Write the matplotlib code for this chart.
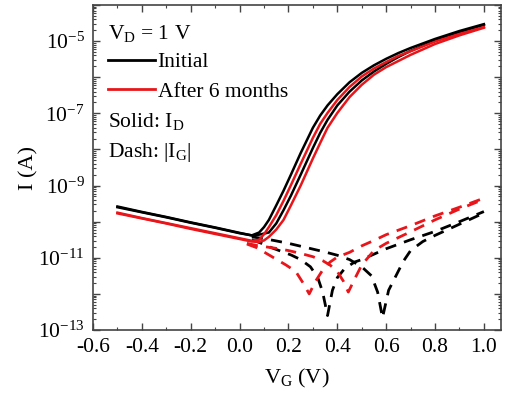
import numpy as np
import matplotlib
matplotlib.use('Agg')
import matplotlib.pyplot as plt
from matplotlib.lines import Line2D
from matplotlib.ticker import LogLocator, FuncFormatter, MultipleLocator, NullFormatter

plt.rcParams['font.family'] = ['Liberation Serif', 'DejaVu Serif']
plt.rcParams['mathtext.fontset'] = 'custom'
plt.rcParams['mathtext.rm'] = 'Liberation Serif'
plt.rcParams['mathtext.it'] = 'Liberation Serif:italic'
plt.rcParams['axes.unicode_minus'] = False

# gate voltage for the transfer (I_D) curves
vg = [-0.5, -0.4, -0.3, -0.2, -0.1, 0.0, 0.05, 0.08, 0.10, 0.12, 0.15, 0.18,
      0.21, 0.25, 0.30, 0.33, 0.36, 0.40, 0.45, 0.50, 0.55, 0.60, 0.65, 0.70,
      0.80, 0.90, 1.00]

# log10(I_D), two sweeps per state
logid_init_1 = [-9.58, -9.73, -9.87, -10.02, -10.16, -10.31, -10.38, -10.30, -10.15, -9.95,
                -9.55, -9.14, -8.70, -8.10, -7.40, -7.06, -6.78, -6.47, -6.14, -5.88,
                -5.67, -5.49, -5.33, -5.19, -4.94, -4.72, -4.53]
logid_init_2 = [-9.60, -9.74, -9.88, -10.03, -10.17, -10.32, -10.38, -10.36, -10.33, -10.30,
                -10.05, -9.68, -9.28, -8.70, -7.96, -7.54, -7.18, -6.78, -6.40, -6.09,
                -5.84, -5.63, -5.44, -5.27, -4.99, -4.75, -4.55]
logid_6m_1 = [-9.75, -9.90, -10.04, -10.18, -10.32, -10.46, -10.53, -10.50, -10.35, -10.15,
              -9.82, -9.42, -8.99, -8.40, -7.68, -7.29, -6.99, -6.63, -6.27, -5.98,
              -5.76, -5.58, -5.41, -5.28, -5.01, -4.80, -4.61]
logid_6m_2 = [-9.77, -9.91, -10.05, -10.20, -10.34, -10.48, -10.55, -10.56, -10.52, -10.42,
              -10.22, -9.95, -9.55, -9.00, -8.25, -7.82, -7.40, -6.99, -6.55, -6.21,
              -5.93, -5.72, -5.55, -5.38, -5.08, -4.84, -4.63]

# |I_G| curves (dashed), each with its own sign-change dip
vg_ig_init_1 = [0.05, 0.09, 0.14, 0.20, 0.25, 0.30, 0.35, 0.40, 0.45, 0.50, 0.54, 0.565,
                0.585, 0.61, 0.64, 0.67, 0.70, 0.75, 0.80, 0.90, 1.00]
logig_init_1 = [-10.42, -10.46, -10.52, -10.60, -10.68, -10.76, -10.84, -10.93, -11.05, -11.25,
                -11.50, -11.95, -12.66, -11.90, -11.50, -11.10, -10.80, -10.55, -10.38, -10.07,
                -9.76]
vg_ig_init_2 = [0.05, 0.09, 0.13, 0.17, 0.21, 0.25, 0.29, 0.32, 0.34, 0.36, 0.38, 0.40,
                0.43, 0.47, 0.50, 0.55, 0.60, 0.70, 0.80, 0.90, 1.00]
logig_init_2 = [-10.50, -10.60, -10.72, -10.82, -10.92, -11.05, -11.25, -11.55, -11.95, -12.60,
                -11.90, -11.55, -11.30, -11.12, -11.05, -10.90, -10.75, -10.50, -10.27, -10.00,
                -9.72]
vg_ig_6m_1 = [0.03, 0.07, 0.11, 0.15, 0.19, 0.23, 0.26, 0.285, 0.31, 0.34, 0.37, 0.40,
              0.45, 0.50, 0.55, 0.60, 0.70, 0.80, 0.90, 1.00]
logig_6m_1 = [-10.62, -10.72, -10.88, -11.04, -11.20, -11.38, -11.70, -12.00, -11.66, -11.34,
              -11.12, -10.98, -10.85, -10.67, -10.52, -10.36, -10.11, -9.84, -9.60, -9.35]
vg_ig_6m_2 = [0.03, 0.07, 0.11, 0.15, 0.20, 0.25, 0.30, 0.34, 0.37, 0.40, 0.425, 0.445,
              0.47, 0.50, 0.55, 0.60, 0.70, 0.80, 0.90, 1.00]
logig_6m_2 = [-10.60, -10.66, -10.70, -10.74, -10.80, -10.88, -10.97, -11.08, -11.20, -11.38,
              -11.65, -11.95, -11.60, -11.20, -10.80, -10.60, -10.28, -9.95, -9.65, -9.38]

black = '#000000'
red = '#e8161b'

fig = plt.figure(figsize=(5.07, 4.01), dpi=100)
ax = fig.add_axes([93/507, 71/401, 408/507, 325/401])

dash = (4, 3)
ax.plot(vg_ig_init_1, 10**np.array(logig_init_1), color=black, lw=2.0, dashes=dash)
ax.plot(vg_ig_init_2, 10**np.array(logig_init_2), color=black, lw=2.0, dashes=dash)
ax.plot(vg_ig_6m_1, 10**np.array(logig_6m_1), color=red, lw=2.0, dashes=dash)
ax.plot(vg_ig_6m_2, 10**np.array(logig_6m_2), color=red, lw=2.0, dashes=dash)

ax.plot(vg, 10**np.array(logid_6m_2), color=red, lw=1.8)
ax.plot(vg, 10**np.array(logid_init_2), color=black, lw=1.8)
ax.plot(vg, 10**np.array(logid_6m_1), color=red, lw=1.8)
ax.plot(vg, 10**np.array(logid_init_1), color=black, lw=1.8)

ax.set_yscale('log')
ax.set_xlim(-0.6, 1.07)
ax.set_ylim(1e-13, 1e-4)

ax.xaxis.set_major_locator(MultipleLocator(0.2))
ax.xaxis.set_minor_locator(MultipleLocator(0.1))
ax.xaxis.set_major_formatter(FuncFormatter(lambda x, p: '%.1f' % x))
ax.yaxis.set_major_locator(LogLocator(base=10, numticks=20))
ax.yaxis.set_minor_locator(LogLocator(base=10, subs=np.arange(2, 10), numticks=20))
ax.yaxis.set_minor_formatter(NullFormatter())

def ylab(y, pos):
    e = int(round(np.log10(y)))
    return r'$10^{%d}$' % e if e % 2 else ''

ax.yaxis.set_major_formatter(FuncFormatter(ylab))

for s in ax.spines.values():
    s.set_color('#444444')
    s.set_linewidth(1.2)
ax.tick_params(which='both', direction='in', top=True, right=True, colors='#444444',
               labelcolor='black', labelsize=15.5)
ax.tick_params(which='major', length=5, width=1.0, pad=6)
ax.tick_params(which='minor', length=2.5, width=0.8)

ax.set_xlabel(r'V$_\mathrm{G}$ (V)', fontsize=16, labelpad=7)
ax.set_ylabel('I (A)', fontsize=16, labelpad=0)

fs = 15.5
ax.text(0.037, 0.912, r'V$_\mathrm{D}$ = 1 V', transform=ax.transAxes, fontsize=fs, va='center')
handles = [Line2D([], [], color=black, lw=2), Line2D([], [], color=red, lw=2)]
ax.legend(handles, ['Initial', 'After 6 months'], loc='upper left', bbox_to_anchor=(0.037, 0.855),
          frameon=False, handlelength=2.2, handletextpad=0.1, labelspacing=0.45,
          borderaxespad=0, borderpad=0, fontsize=fs)
ax.text(0.037, 0.64, r'Solid: I$_\mathrm{D}$', transform=ax.transAxes, fontsize=fs, va='center')
ax.text(0.037, 0.545, r'Dash: |I$_\mathrm{G}$|', transform=ax.transAxes, fontsize=fs, va='center')

fig.savefig('out.png', dpi=100)
